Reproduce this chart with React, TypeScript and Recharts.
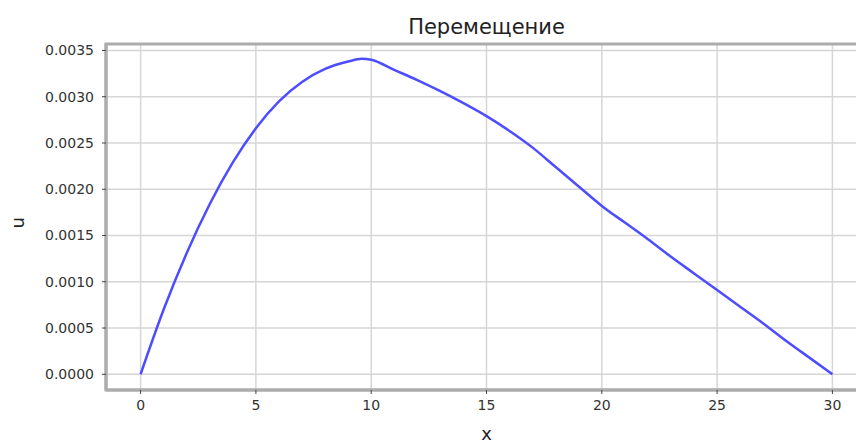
import {
  LineChart,
  Line,
  XAxis,
  YAxis,
  CartesianGrid,
  ReferenceArea,
  Label,
} from 'recharts';

// x positions along the bar and displacement u
const xs = [0, 1, 2, 3, 4, 5, 6, 7, 8, 9, 9.6, 10, 11, 12, 13, 14, 15, 16, 17, 18, 19, 20, 21, 22, 23, 24, 25, 26, 27, 28, 29, 30];
const us = [
  0, 0.0007, 0.00131, 0.00184, 0.00229, 0.00266, 0.00295, 0.00316, 0.0033, 0.00338, 0.00341, 0.0034,
  0.00329, 0.00318, 0.00306, 0.00293, 0.00279, 0.00263, 0.00245, 0.00224, 0.00203, 0.00182,
  0.00164, 0.00146, 0.00127, 0.00109, 0.00091, 0.00073, 0.00055, 0.00036, 0.00018, 0,
];

const xTicks = [0, 5, 10, 15, 20, 25, 30];
const yTicks = [0, 0.0005, 0.001, 0.0015, 0.002, 0.0025, 0.003, 0.0035];

const X_DOMAIN: [number, number] = [-1.5, 31.5];
const Y_DOMAIN: [number, number] = [-0.00017, 0.00357];

const data = xs.map((x, i) => ({ x, u: us[i] }));

const FONT = 'DejaVu Sans, sans-serif';

export default function App() {
  return (
    <div style={{ position: 'absolute', left: 0, top: 0, width: 856, height: 443, overflow: 'hidden', background: '#fff' }}>
      <div
        style={{
          position: 'absolute',
          left: 106,
          width: 761,
          top: 14,
          textAlign: 'center',
          fontFamily: FONT,
          fontSize: 21,
          lineHeight: '26px',
          color: '#222',
        }}
      >
        Перемещение
      </div>
      <LineChart
        width={870}
        height={443}
        data={data}
        margin={{ top: 44, right: 3, left: 50, bottom: 28 }}
      >
        <CartesianGrid stroke="#d6d6d6" strokeWidth={1.5} horizontalValues={yTicks} verticalValues={xTicks} />
        <XAxis
          dataKey="x"
          type="number"
          domain={X_DOMAIN}
          ticks={xTicks}
          allowDataOverflow
          height={25}
          axisLine={{ stroke: '#acacac', strokeWidth: 3 }}
          tickLine={{ stroke: '#444' }}
          tickSize={4}
          tickMargin={6}
          tick={{ fill: '#333', fontSize: 14, fontFamily: FONT }}
        >
          <Label value="x" position="bottom" offset={12} style={{ fill: '#222', fontSize: 18, fontFamily: FONT }} />
        </XAxis>
        <YAxis
          type="number"
          domain={Y_DOMAIN}
          ticks={yTicks}
          allowDataOverflow
          width={56}
          axisLine={{ stroke: '#acacac', strokeWidth: 3 }}
          tickLine={{ stroke: '#444' }}
          tickSize={4}
          tickMargin={8}
          tickFormatter={(v: number) => v.toFixed(4)}
          tick={{ fill: '#333', fontSize: 14, fontFamily: FONT }}
        >
          <Label value="u" angle={-90} position="left" offset={32} style={{ fill: '#222', fontSize: 18, fontFamily: FONT }} />
        </YAxis>
        <ReferenceArea
          x1={X_DOMAIN[0]}
          x2={X_DOMAIN[1]}
          y1={Y_DOMAIN[0]}
          y2={Y_DOMAIN[1]}
          fill="none"
          stroke="#acacac"
          strokeWidth={3}
        />
        <Line
          type="monotone"
          dataKey="u"
          stroke="#4d4dff"
          strokeWidth={2.5}
          dot={false}
          isAnimationActive={false}
        />
      </LineChart>
    </div>
  );
}
